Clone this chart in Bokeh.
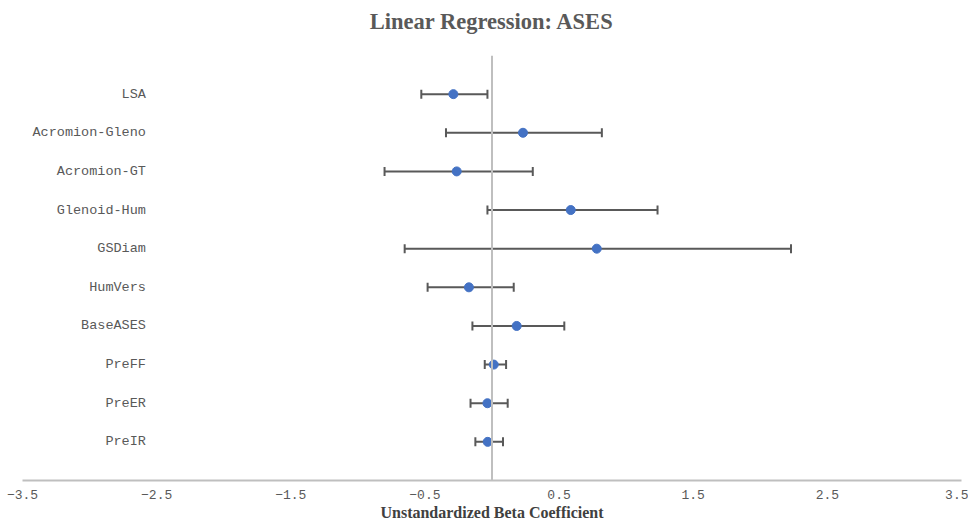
import numpy as np
from bokeh.plotting import figure
from bokeh.models import FixedTicker, Span, Range1d, LinearAxis
from bokeh.core.properties import value
from bokeh.embed import file_html
from bokeh.resources import INLINE

categories = ["LSA", "Acromion-Gleno", "Acromion-GT", "Glenoid-Hum", "GSDiam",
              "HumVers", "BaseASES", "PreFF", "PreER", "PreIR"]
beta = [-0.288, 0.231, -0.263, 0.587, 0.781, -0.172, 0.184, 0.013, -0.034, -0.032]
ci_low = [-0.527, -0.343, -0.801, -0.034, -0.651, -0.480, -0.146, -0.054, -0.160, -0.124]
ci_high = [-0.034, 0.819, 0.304, 1.234, 2.229, 0.162, 0.539, 0.105, 0.117, 0.082]
x_ticks = [-3.5, -2.5, -1.5, -0.5, 0.5, 1.5, 2.5, 3.5]
title_text = "Linear Regression: ASES"

n = len(categories)
ypos = list(range(n, 0, -1))

p = figure(width=968, height=525, output_backend="svg", toolbar_location=None,
           x_range=Range1d(-3.5, 3.5), y_range=Range1d(0, n + 1),
           min_border_left=22, min_border_right=7, min_border_top=55, min_border_bottom=45)
p.background_fill_color = "white"
p.border_fill_color = "white"
p.outline_line_color = None
p.xgrid.visible = False
p.ygrid.visible = False
p.yaxis.visible = False

ax = p.below[0]
ax.ticker = FixedTicker(ticks=x_ticks)
ax.axis_line_color = "#BFBFBF"
ax.axis_line_width = 2
ax.major_tick_line_color = None
ax.minor_tick_line_color = None
ax.major_tick_out = 0
ax.major_tick_in = 0
ax.minor_tick_out = 0
ax.minor_tick_in = 0
ax.major_label_text_font = "'Liberation Mono', 'Courier New', monospace"
ax.major_label_text_font_size = "13px"
ax.major_label_text_color = "#595959"
ax.major_label_standoff = 9
ax.axis_label = "Unstandardized Beta Coefficient"
ax.axis_label_text_font = "Liberation Serif"
ax.axis_label_text_font_style = "bold"
ax.axis_label_text_font_size = "16px"
ax.axis_label_text_color = "#404040"
ax.axis_label_standoff = 2

# title drawn as the label of an empty axis above the frame
top_axis = LinearAxis(ticker=FixedTicker(ticks=[]), axis_line_color=None,
                      major_tick_line_color=None, minor_tick_line_color=None,
                      major_tick_out=0, major_tick_in=0, minor_tick_out=0, minor_tick_in=0,
                      major_label_standoff=0, major_label_text_font_size="0px",
                      axis_label=title_text, axis_label_standoff=22,
                      axis_label_text_font="Liberation Serif", axis_label_text_font_style="bold",
                      axis_label_text_font_size="22.5px", axis_label_text_color="#595959")
p.add_layout(top_axis, "above")

zero = Span(location=0, dimension="height", line_color="#BFBFBF", line_width=2)
p.add_layout(zero)

p.segment(x0=ci_low, y0=ypos, x1=ci_high, y1=ypos, line_color="#595959", line_width=2)
p.scatter(x=ci_low + ci_high, y=ypos + ypos, marker="dash", angle=np.pi / 2, size=9,
          line_color="#595959", line_width=2)
p.scatter(x=beta, y=ypos, size=9, fill_color="#4472C4", line_color="#4472C4")

p.text(x=-2.58, y=ypos, text=categories, text_align="right", text_baseline="middle",
       text_font=value("Liberation Mono"), text_font_size="13.5px", text_color="#595959")

open("out.html", "w").write(file_html(p, INLINE))
